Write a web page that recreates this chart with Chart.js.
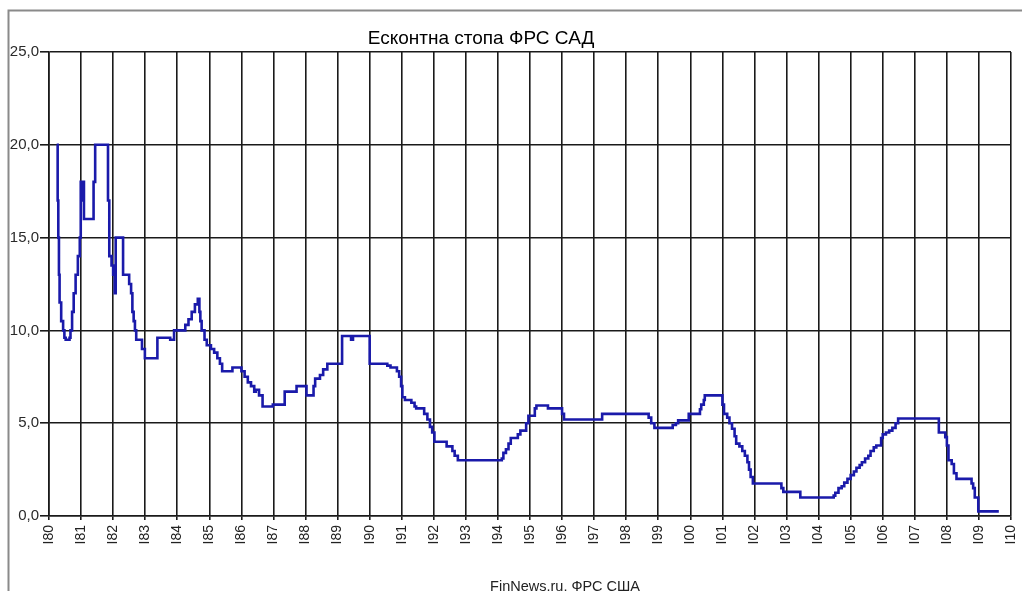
<!DOCTYPE html>
<html><head><meta charset="utf-8">
<script src="https://cdn.jsdelivr.net/npm/chart.js@4/dist/chart.umd.min.js"></script>
<style>html,body{margin:0;padding:0;background:#fff;overflow:hidden}#wrap{position:relative;width:1022px;height:591px}</style>
</head><body><div id="wrap"><canvas id="c" width="1022" height="591"></canvas></div>
<script>
const chartTitle = 'Есконтна стопа ФРС САД';
const sourceText = 'FinNews.ru, ФРС США';
const yearMin = 1980;
const yearMax = 2010;
const rateMax = 25;
const rateStep = 5;
// step dates (decimal years) and discount rate (%) starting at each date
const dates = [
  1980.24,1980.27,1980.29,1980.31,1980.33,1980.38,1980.44,1980.48,1980.52,1980.64,
  1980.67,1980.72,1980.77,1980.83,1980.90,1980.96,1980.99,1981.03,1981.06,1981.09,
  1981.39,1981.44,1981.84,1981.88,1981.95,1982.00,1982.05,1982.08,1982.31,1982.50,
  1982.56,1982.60,1982.64,1982.68,1982.72,1982.90,1982.99,1983.38,1983.78,1983.90,
  1984.25,1984.35,1984.45,1984.55,1984.64,1984.69,1984.72,1984.76,1984.85,1984.92,
  1985.05,1985.15,1985.25,1985.33,1985.40,1985.72,1986.00,1986.10,1986.20,1986.30,
  1986.40,1986.45,1986.55,1986.66,1986.98,1987.35,1987.72,1988.03,1988.25,1988.30,
  1988.45,1988.55,1988.68,1989.14,1989.42,1989.48,1990.00,1990.55,1990.65,1990.85,
  1990.92,1990.98,1991.02,1991.10,1991.30,1991.40,1991.45,1991.70,1991.80,1991.88,
  1991.95,1992.02,1992.40,1992.58,1992.65,1992.75,1994.12,1994.17,1994.25,1994.33,
  1994.40,1994.62,1994.70,1994.88,1994.95,1995.15,1995.20,1995.56,1996.00,1996.06,
  1997.25,1998.70,1998.78,1998.88,1999.45,1999.55,1999.62,1999.95,2000.30,2000.34,
  2000.42,2000.45,2001.00,2001.05,2001.15,2001.22,2001.30,2001.38,2001.43,2001.53,
  2001.62,2001.70,2001.78,2001.83,2001.88,2001.95,2002.84,2002.90,2003.43,2004.47,
  2004.52,2004.62,2004.72,2004.80,2004.90,2005.00,2005.10,2005.18,2005.28,2005.35,
  2005.45,2005.55,2005.62,2005.72,2005.80,2005.95,2006.00,2006.10,2006.20,2006.30,
  2006.40,2006.48,2007.75,2007.95,2008.00,2008.05,2008.15,2008.22,2008.30,2008.77,
  2008.82,2008.87,2008.98,2009.62
];
const rates = [
  20.0,17.0,15.0,13.0,11.5,10.5,10.0,9.6,9.5,9.6,
  10.0,11.0,12.0,13.0,14.0,15.0,18.0,17.0,18.0,16.0,
  18.0,20.0,17.0,14.0,13.5,13.0,12.0,15.0,13.0,12.5,
  12.0,11.0,10.5,10.0,9.5,9.0,8.5,9.6,9.5,10.0,
  10.3,10.6,11.0,11.4,11.7,11.0,10.5,10.0,9.5,9.2,
  9.0,8.8,8.5,8.2,7.8,8.0,7.8,7.5,7.2,7.0,
  6.7,6.8,6.5,5.9,6.0,6.7,7.0,6.5,7.0,7.4,
  7.6,7.9,8.2,9.7,9.5,9.7,8.2,8.1,8.0,7.8,
  7.5,7.0,6.4,6.25,6.1,5.9,5.8,5.5,5.2,4.8,
  4.5,4.0,3.75,3.5,3.25,3.0,3.1,3.4,3.6,3.9,
  4.2,4.4,4.6,5.0,5.4,5.8,5.95,5.8,5.5,5.2,
  5.5,5.3,5.0,4.75,4.9,5.0,5.15,5.5,5.75,6.0,
  6.25,6.5,6.0,5.5,5.3,5.0,4.7,4.3,3.9,3.75,
  3.5,3.25,2.9,2.5,2.1,1.75,1.5,1.3,1.0,1.1,
  1.25,1.5,1.6,1.8,2.0,2.2,2.4,2.6,2.75,2.9,
  3.1,3.25,3.5,3.7,3.8,4.2,4.4,4.5,4.6,4.75,
  5.0,5.25,4.5,4.25,3.8,3.0,2.8,2.3,2.0,1.75,
  1.5,1.0,0.25,0.25
];

const points = dates.map((d, i) => ({x: d, y: rates[i]}));
const gridColor = '#1a1a1a';
const fontFamily = '"Liberation Sans", Arial, sans-serif';

const decor = {
  id: 'decor',
  beforeDraw(chart) {
    const ctx = chart.ctx;
    ctx.save();
    ctx.fillStyle = '#fff';
    ctx.fillRect(0, 0, chart.width, chart.height);
    ctx.restore();
  },
  afterDraw(chart) {
    const ctx = chart.ctx;
    ctx.save();
    ctx.strokeStyle = '#8a8a8a';
    ctx.lineWidth = 2;
    ctx.beginPath();
    ctx.moveTo(8.5, 591);
    ctx.lineTo(8.5, 10.5);
    ctx.lineTo(1022, 10.5);
    ctx.stroke();
    ctx.fillStyle = '#000';
    ctx.textAlign = 'center';
    ctx.textBaseline = 'alphabetic';
    ctx.font = '19px ' + fontFamily;
    ctx.fillText(chartTitle, 481, 44);
    ctx.fillStyle = '#222';
    ctx.font = '14.5px ' + fontFamily;
    ctx.fillText(sourceText, 565, 591);
    ctx.restore();
  }
};

new Chart(document.getElementById('c'), {
  type: 'line',
  data: {
    datasets: [{
      data: points,
      borderColor: '#1a1aaa',
      borderWidth: 2.6,
      pointRadius: 0,
      stepped: true,
      fill: false
    }]
  },
  options: {
    responsive: false,
    animation: false,
    devicePixelRatio: 1,
    layout: {padding: {left: 0, top: 52, right: 11, bottom: 0}},
    plugins: {legend: {display: false}, tooltip: {enabled: false}, title: {display: false}},
    scales: {
      x: {
        type: 'linear',
        min: yearMin,
        max: yearMax,
        afterFit: s => { s.height = 75; s.paddingLeft = 0; s.paddingRight = 0; },
        border: {display: true, color: gridColor, width: 1.6},
        grid: {color: gridColor, lineWidth: 1.6, tickLength: 4, drawTicks: true},
        ticks: {
          stepSize: 1,
          autoSkip: false,
          maxRotation: 90,
          minRotation: 90,
          padding: 5,
          color: '#222',
          font: {family: fontFamily, size: 14},
          callback: v => "I" + String(Math.round(v) % 100).padStart(2, '0')
        }
      },
      y: {
        min: 0,
        max: rateMax,
        afterFit: s => { s.width = 49; s.paddingTop = 0; s.paddingBottom = 0; },
        border: {display: true, color: gridColor, width: 1.6},
        grid: {color: gridColor, lineWidth: 1.6, tickLength: 9, drawTicks: true},
        ticks: {
          stepSize: rateStep,
          padding: 1,
          color: '#2a2a2a',
          font: {family: fontFamily, size: 15},
          callback: v => v.toFixed(1).replace('.', ',')
        }
      }
    }
  },
  plugins: [decor]
});
</script>
</body></html>
